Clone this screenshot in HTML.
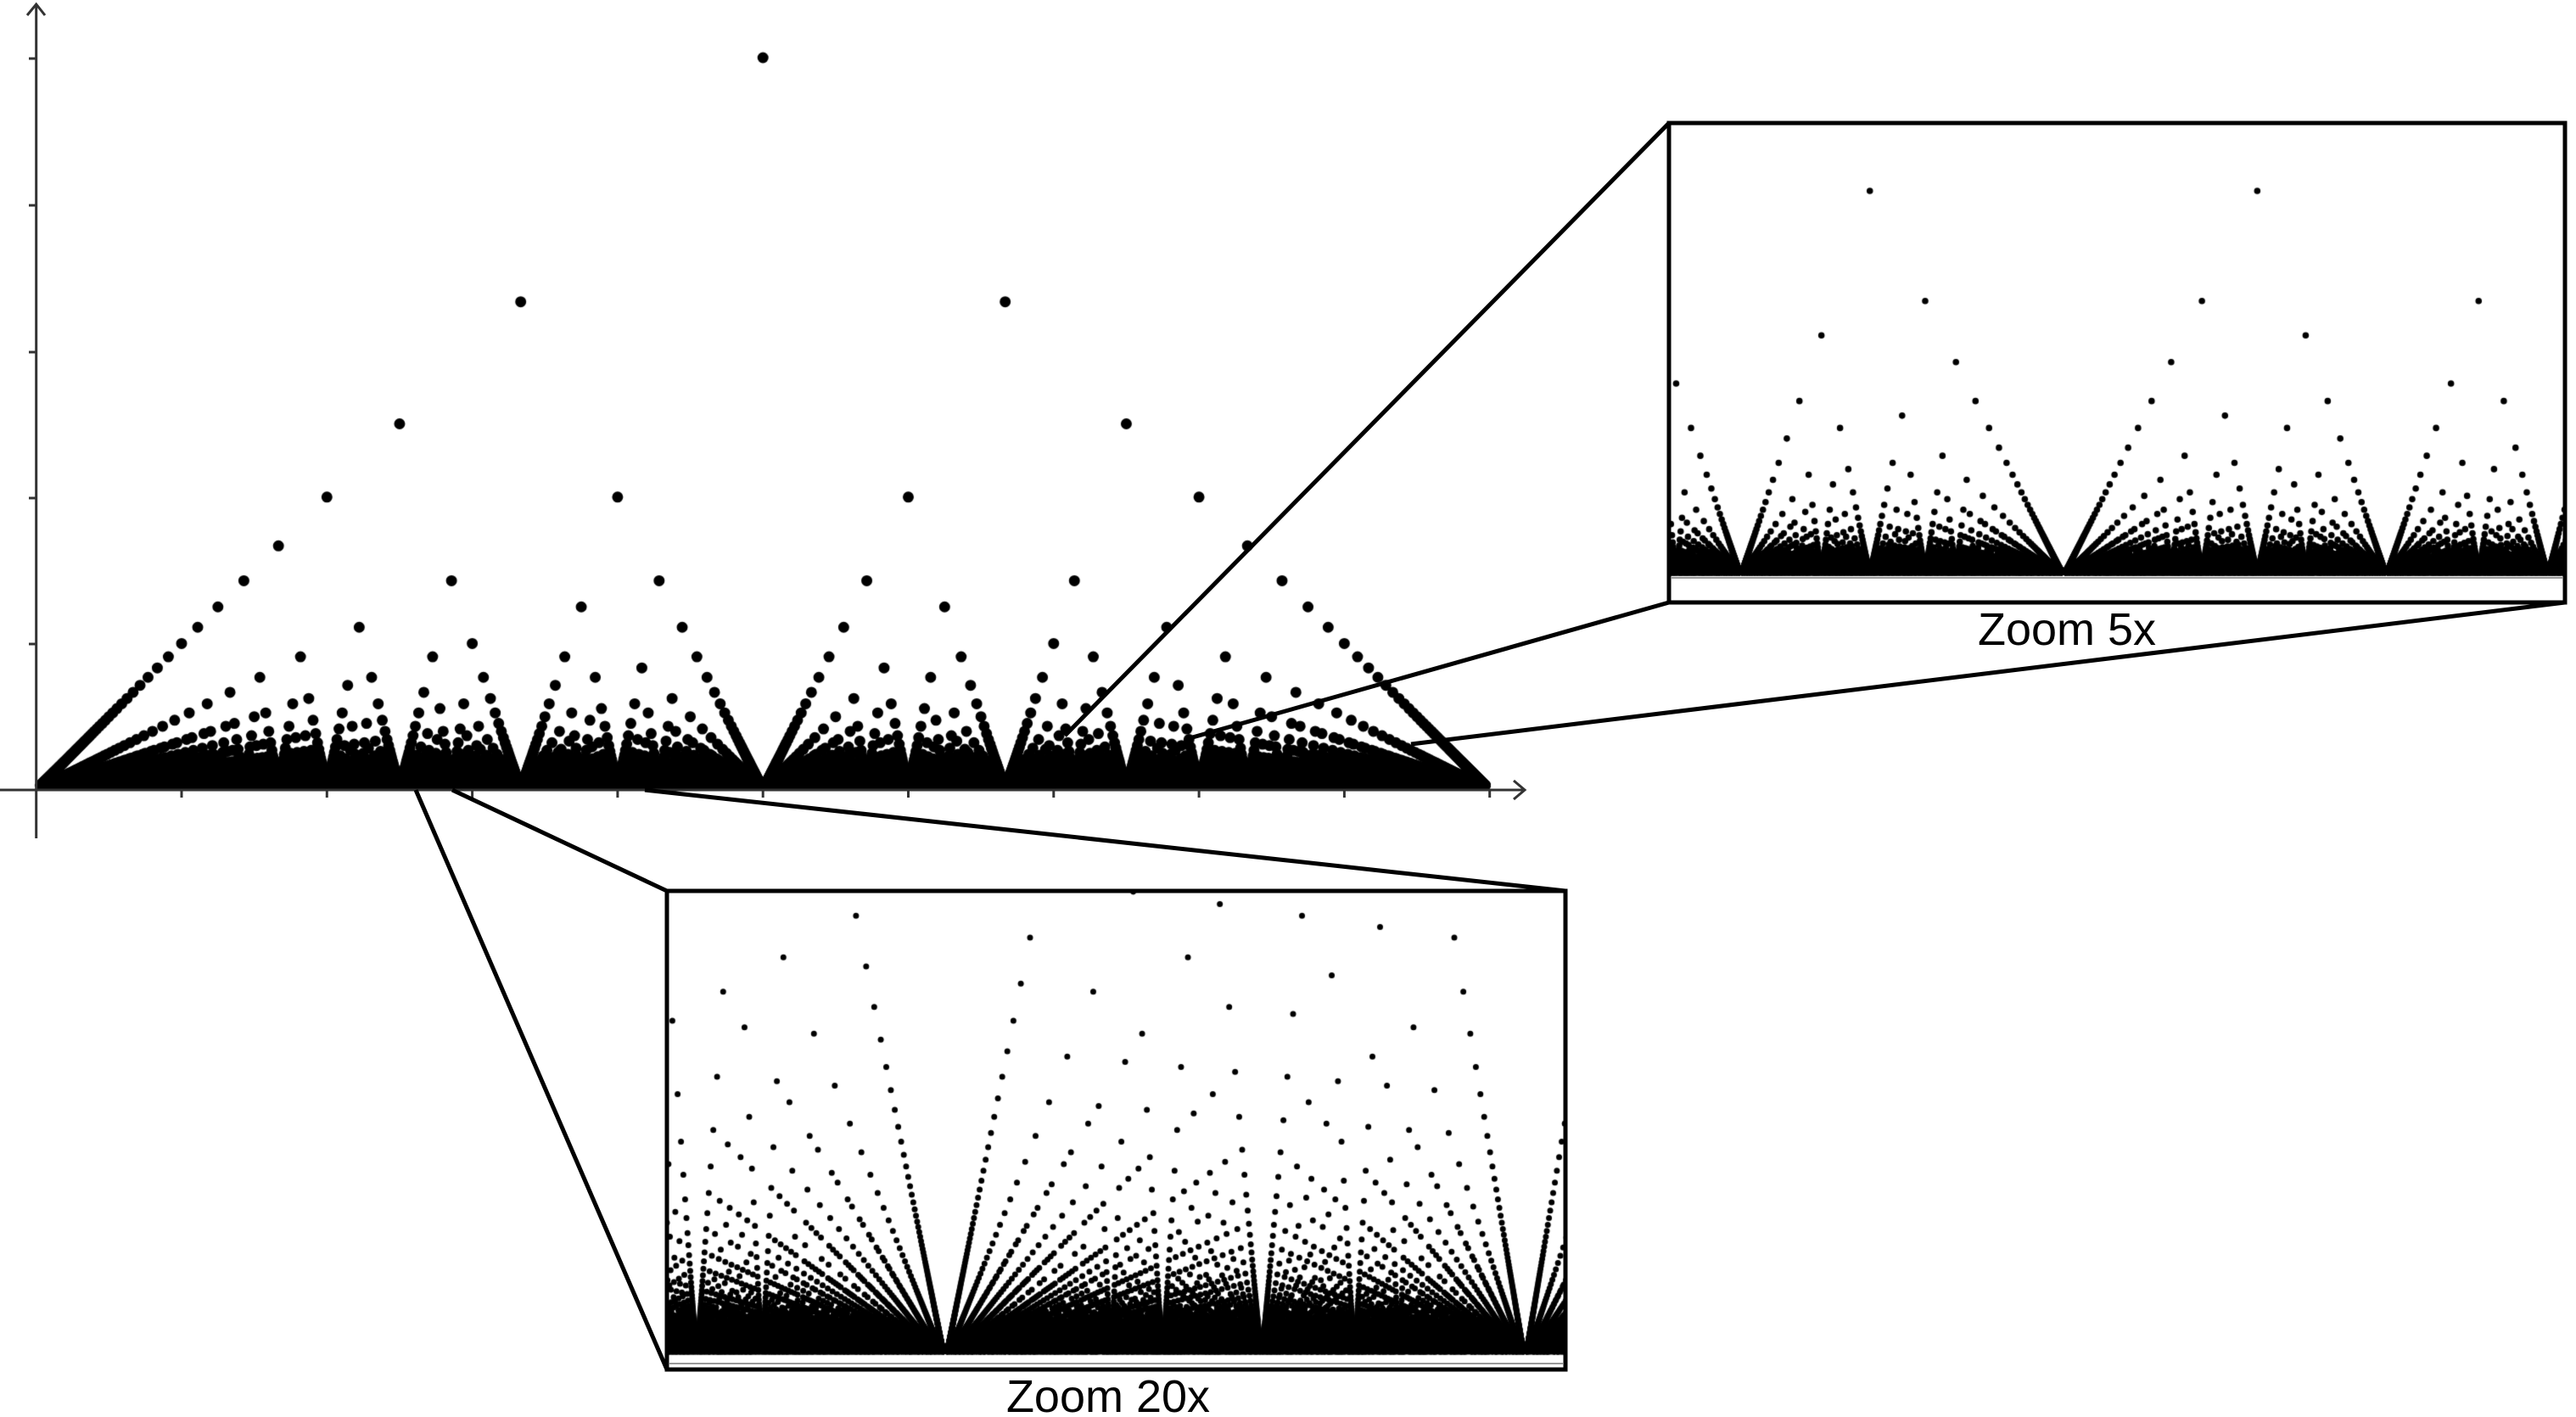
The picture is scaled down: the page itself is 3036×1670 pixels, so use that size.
<!DOCTYPE html>
<html><head><meta charset="utf-8"><style>
html,body{margin:0;padding:0;background:#fff;}
#wrap{position:relative;width:3036px;height:1670px;overflow:hidden;background:#fff;}
canvas,svg{position:absolute;left:0;top:0;}
</style></head><body><div id="wrap">
<canvas id="c" width="3036" height="1670"></canvas>
<svg width="3036" height="1670" viewBox="0 0 3036 1670" xmlns="http://www.w3.org/2000/svg">
 <g stroke="#333" stroke-width="3" fill="none">
  <line x1="42.7" y1="988" x2="42.7" y2="6"/>
  <polyline points="32,18 42.7,5 53,18"/>
  <line x1="0" y1="931" x2="1796" y2="931"/>
  <polyline points="1784,920 1797,931 1784,942"/>
  <line x1="34" y1="69" x2="43" y2="69"/>
  <line x1="34" y1="242" x2="43" y2="242"/>
  <line x1="34" y1="415" x2="43" y2="415"/>
  <line x1="34" y1="587" x2="43" y2="587"/>
  <line x1="34" y1="759" x2="43" y2="759"/>
 </g>
 <g id="xt" stroke="#333" stroke-width="3"></g>
 <g stroke="#999" stroke-width="2">
  <line x1="1970" y1="681" x2="3020" y2="681"/>
  <line x1="789" y1="1607" x2="1842" y2="1607"/>
 </g>
 <g stroke="#000" stroke-width="5" fill="none" stroke-linejoin="miter">
  <rect x="1967" y="145" width="1056" height="565"/>
  <rect x="786" y="1050" width="1059" height="564"/>
  <line x1="1967" y1="145" x2="1255" y2="867"/>
  <line x1="1967" y1="710" x2="1402" y2="870"/>
  <line x1="3023" y1="710" x2="1663" y2="877"/>
  <line x1="490" y1="931" x2="786" y2="1614"/>
  <line x1="533" y1="931" x2="786" y2="1050"/>
  <line x1="760" y1="931" x2="1845" y2="1050"/>
 </g>
 <g font-family="Liberation Sans, sans-serif" font-size="54" fill="#000" text-anchor="middle">
  <text x="2436" y="760">Zoom 5x</text>
  <text x="1306" y="1664">Zoom 20x</text>
 </g>
</svg>
</div>
<script>
(function(){
 var xt=document.getElementById('xt'),s='';
 for(var k=1;k<=10;k++){var x=42.7+171.3*k;s+='<line x1="'+x+'" y1="931" x2="'+x+'" y2="940"/>';}
 xt.innerHTML=s;
 var c=document.getElementById('c').getContext('2d');
 c.fillStyle='#000';
 function g(a,b){while(b){var t=a%b;a=b;b=t;}return a;}
 function plot(L,R,X0,Sx,Y0,Sy,N,r,clip){
  c.save();
  if(clip){c.beginPath();c.rect(clip[0],clip[1],clip[2],clip[3]);c.clip();}
  for(var q=2;q<=N;q++){
   var y=Y0-Sy/q;
   if(clip && y<clip[1]-r) continue;
   var p0=Math.max(1,Math.ceil(L*q)),p1=Math.min(q-1,Math.floor(R*q));
   c.beginPath();
   for(var p=p0;p<=p1;p++){
    if(g(p,q)!==1)continue;
    var x=X0+(p/q-L)*Sx;
    c.moveTo(x+r,y);c.arc(x,y,r,0,6.2832);
   }
   c.fill();
  }
  c.restore();
 }
 plot(0,1,42.7,1713,931,1726,320,6.5,null);
 plot(0.2963,0.7615,1967,2283,679,2270,520,3.8,[1969,147,1052,535]);
 plot(0.7840,0.8362,786,20500,1605,20500,1700,3.5,[788,1052,1055,556]);
})();
</script>
</body></html>
